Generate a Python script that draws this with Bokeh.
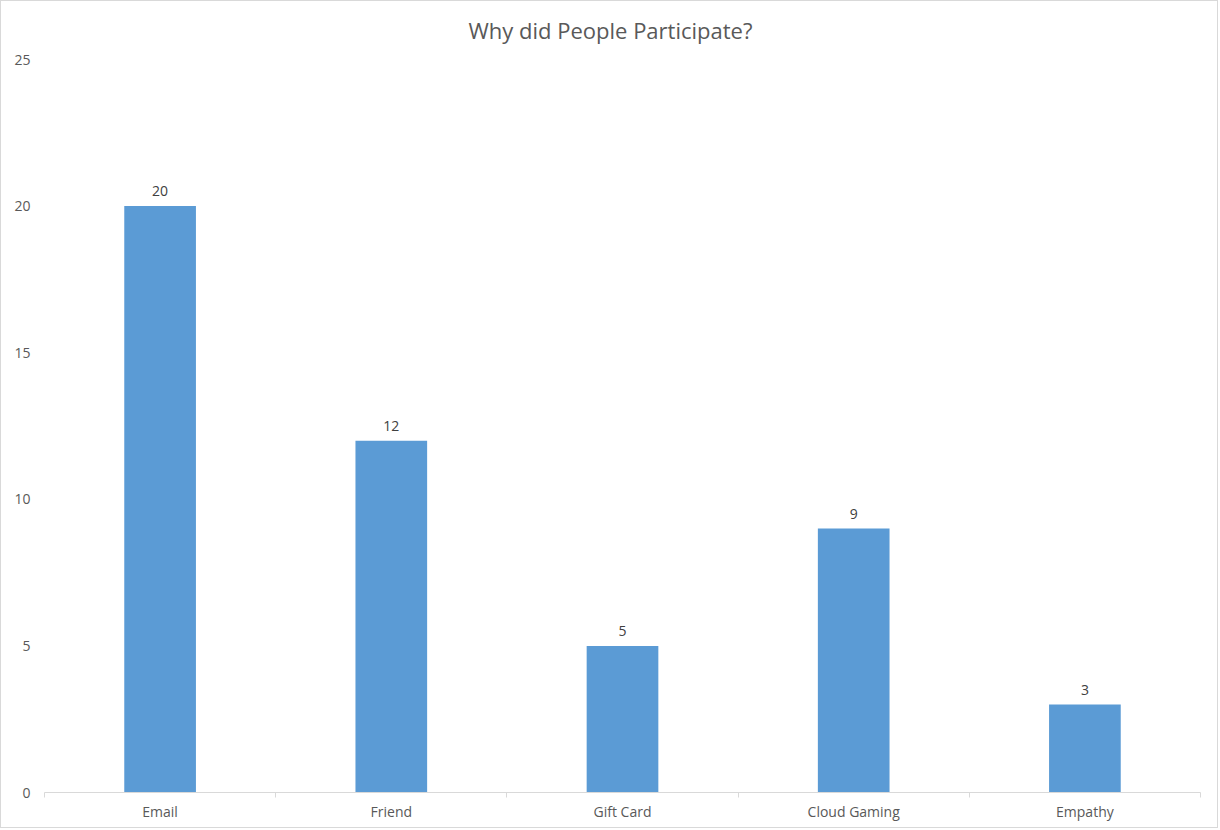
from bokeh.plotting import figure
from bokeh.models import ColumnDataSource, FixedTicker, LabelSet, Range1d
from bokeh.core.properties import value
from bokeh.embed import file_html
from bokeh.resources import INLINE

title_text = "Why did People Participate?"
categories = ["Email", "Friend", "Gift Card", "Cloud Gaming", "Empathy"]
counts = [20, 12, 5, 9, 3]
y_ticks = [0, 5, 10, 15, 20, 25]

xs = [i + 0.5 for i in range(len(categories))]
src = ColumnDataSource(dict(x=xs, top=counts, lbl=[str(c) for c in counts]))

FONT = "Open Sans"
p = figure(width=1218, height=828, output_backend="svg", toolbar_location=None,
           x_range=Range1d(0, len(categories)), y_range=Range1d(0, 25),
           title=title_text,
           min_border_left=43, min_border_right=19, min_border_top=58, min_border_bottom=37)
p.styles = {"border": "1px solid #d9d9d9"}
p.outline_line_color = None
p.grid.grid_line_color = None
p.background_fill_color = "white"
p.border_fill_color = "white"

p.title.align = "left"
p.title.offset = 424
p.title.vertical_align = "top"
p.title.text_font = FONT
p.title.text_font_size = "22px"
p.title.text_font_style = "normal"
p.title.text_color = "#595959"
p.title.standoff = 26

p.vbar(x="x", top="top", width=0.31, source=src, color="#5B9BD5", line_color=None)

p.add_layout(LabelSet(x="x", y="top", text="lbl", source=src, text_align="center",
                      text_baseline="bottom", y_offset=10, text_font=value(FONT),
                      text_font_size=value("14px"), text_color="#404040"))

xa = p.xaxis[0]
xa.ticker = FixedTicker(ticks=xs, minor_ticks=list(range(len(categories) + 1)))
xa.major_label_overrides = {x: c for x, c in zip(xs, categories)}
xa.major_tick_line_color = None
xa.minor_tick_line_color = "#d9d9d9"
xa.minor_tick_out = 5
xa.minor_tick_in = 0
xa.axis_line_color = "#d9d9d9"
xa.major_label_standoff = 3
xa.major_label_text_font = FONT
xa.major_label_text_font_size = "14px"
xa.major_label_text_color = "#595959"

ya = p.yaxis[0]
ya.ticker = FixedTicker(ticks=y_ticks)
ya.axis_line_color = None
ya.major_tick_line_color = None
ya.minor_tick_line_color = None
ya.major_label_standoff = 8
ya.major_label_text_font = FONT
ya.major_label_text_font_size = "14px"
ya.major_label_text_color = "#595959"

open("out.html", "w").write(file_html(p, INLINE))
